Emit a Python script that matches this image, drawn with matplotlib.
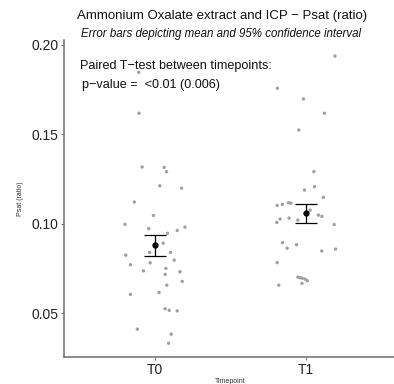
import matplotlib
matplotlib.use("Agg")
import matplotlib.pyplot as plt
import numpy as np

plt.rcParams['font.family'] = ['Liberation Sans', 'DejaVu Sans']

timepoints = ["T0", "T1"]

# Psat (ratio) per sample
t0_values = [0.1847, 0.1618, 0.1317, 0.1315, 0.1291, 0.1212, 0.1199, 0.1121, 0.1046,
             0.0996, 0.0972, 0.0981, 0.0962, 0.0946, 0.0891, 0.0824, 0.0839, 0.0839,
             0.0770, 0.0781, 0.0796, 0.0736, 0.0750, 0.0716, 0.0731, 0.0677, 0.0656,
             0.0604, 0.0615, 0.0524, 0.0515, 0.0512, 0.0410, 0.0382, 0.0331]
t1_values = [0.1938, 0.1758, 0.1698, 0.1618, 0.1524, 0.1291, 0.1207, 0.1188, 0.1147,
             0.1102, 0.1108, 0.1117, 0.1115, 0.1076, 0.1048, 0.1041, 0.1026, 0.1007,
             0.1031, 0.1020, 0.0995, 0.0894, 0.0863, 0.0882, 0.0847, 0.0858, 0.0782,
             0.0701, 0.0698, 0.0695, 0.0690, 0.0681, 0.0666, 0.0656, 0.1058]

# horizontal jitter (category units) as seen in the picture
t0_jitter = [-0.106, -0.104, -0.084, 0.062, 0.077, 0.033, 0.177, -0.135, -0.009,
             -0.197, -0.040, 0.199, 0.148, 0.084, 0.055, -0.192, -0.035, 0.104,
             -0.161, -0.031, 0.128, -0.075, 0.073, 0.068, 0.166, 0.181, 0.079,
             -0.161, 0.028, 0.068, 0.095, 0.148, -0.115, 0.108, 0.091]
t1_jitter = [0.190, -0.190, -0.018, 0.121, -0.048, 0.051, 0.055, -0.011, 0.113,
             -0.192, -0.157, -0.117, -0.101, 0.026, 0.081, 0.104, -0.172, -0.194,
             -0.113, -0.055, 0.185, -0.157, -0.126, -0.064, 0.103, 0.194, -0.192,
             -0.055, -0.040, -0.026, -0.007, 0.007, -0.028, -0.181, 0.0]

means = [0.0878, 0.1058]
ci_low = [0.0820, 0.1002]
ci_high = [0.0934, 0.1111]

fig = plt.figure(figsize=(3.94, 3.84), dpi=100)
ax = fig.add_axes([64 / 394, 27 / 384, 333 / 394, 316.5 / 384])

pos = np.arange(1, len(timepoints) + 1)
for p, vals, jit in zip(pos, [t0_values, t1_values], [t0_jitter, t1_jitter]):
    ax.scatter(p + np.array(jit), vals, s=6, color='#a0a0a0', edgecolors='none', zorder=2)

ax.errorbar(pos, means, yerr=[np.array(means) - np.array(ci_low), np.array(ci_high) - np.array(means)],
            fmt='o', color='black', markersize=3.5, capsize=8, elinewidth=0.9, capthick=0.9, zorder=3)

ax.set_xlim(0.4, 2.6)
ax.set_ylim(0.0254, 0.2025)
ax.set_xticks(pos)
ax.set_xticklabels(timepoints, fontsize=10, color='#222222')
ax.set_yticks([0.05, 0.10, 0.15, 0.20])
ax.set_yticklabels(["0.05", "0.10", "0.15", "0.20"], fontsize=10, color='#222222')
ax.tick_params(length=2.5, width=0.6, color='#555555', pad=1.5)
for s in ['top', 'right']:
    ax.spines[s].set_visible(False)
for s in ['left', 'bottom']:
    ax.spines[s].set_color('#6e6e6e')
    ax.spines[s].set_linewidth(1.1)

ax.set_ylabel("Psat (ratio)", fontsize=5, color='#333333', labelpad=5)
ax.set_xlabel("Timepoint", fontsize=5, color='#333333', labelpad=1)

fig.text(222 / 394, 1 - 16 / 384, "Ammonium Oxalate extract and ICP \u2212 Psat (ratio)",
         ha='center', va='center', fontsize=9.5, color='#111111')
fig.text(221 / 394, 1 - 34 / 384, "Error bars depicting mean and 95% confidence interval",
         ha='center', va='center', fontsize=8.3, style='italic', color='#111111')
fig.text(80 / 394, 1 - 66 / 384, "Paired T\u2212test between timepoints:",
         ha='left', va='center', fontsize=9.1, color='#111111')
fig.text(82 / 394, 1 - 85 / 384, "p\u2212value =  <0.01 (0.006)",
         ha='left', va='center', fontsize=9.1, color='#111111')

fig.savefig("out.png", dpi=100)
